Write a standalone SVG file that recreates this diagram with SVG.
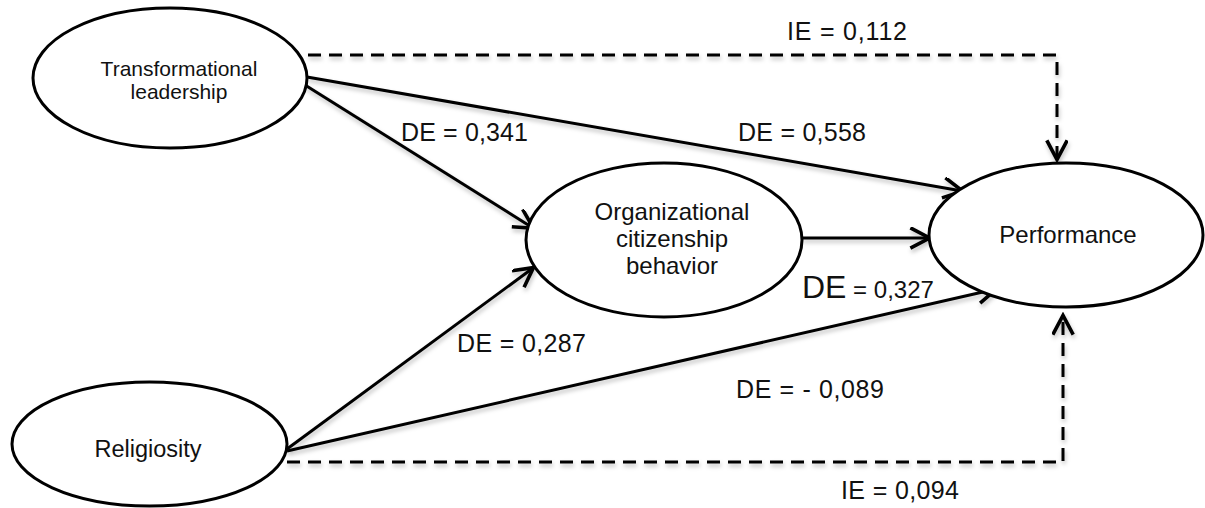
<svg xmlns="http://www.w3.org/2000/svg" width="1205" height="508" viewBox="0 0 1205 508">
  <style>
    .node { fill: #ffffff; stroke: #000000; stroke-width: 3; }
    .nlabel { font-family: "Liberation Sans", Arial, sans-serif; fill: #111111; text-anchor: middle; }
    .elabel { font-family: "Liberation Sans", Arial, sans-serif; fill: #111111; font-size: 25px; }
    .conn { fill: none; stroke: #000000; stroke-width: 3; marker-end: url(#arrow); }
    .dash { stroke-dasharray: 13 8; }
  </style>
  <defs>
    <marker id="arrow" markerUnits="userSpaceOnUse" markerWidth="24" markerHeight="24" viewBox="0 0 20 20" refX="16.5" refY="9" orient="auto">
      <path d="M1,0.5 L17,9 L1,17.5" fill="none" stroke="#000000" stroke-width="3" stroke-linejoin="miter"/>
    </marker>
    <filter id="shadow" x="-5%" y="-20%" width="110%" height="140%">
      <feDropShadow dx="1" dy="3" stdDeviation="2" flood-color="#000000" flood-opacity="0.25"/>
    </filter>
  </defs>
  <rect x="0" y="0" width="1205" height="508" fill="#ffffff"/>

  <g id="connectors" filter="url(#shadow)">
    <path class="conn dash" d="M308,55 L1057,55 L1057,159"/>
    <path class="conn dash" d="M287,462 L1063,462 L1063,316"/>
    <path class="conn" d="M307,77 L962,191"/>
    <path class="conn" d="M305,85 L533,228"/>
    <path class="conn" d="M802,238 L929,238"/>
    <path class="conn" d="M287,449 L533,268"/>
    <path class="conn" d="M287,451 L996,289"/>
  </g>

  <g id="node-transformational">
    <ellipse class="node" cx="170" cy="78" rx="137" ry="70"/>
    <text class="nlabel" font-size="21" x="179" y="76">Transformational</text>
    <text class="nlabel" font-size="21" x="179" y="99">leadership</text>
  </g>

  <g id="node-religiosity">
    <ellipse class="node" cx="149.5" cy="444" rx="137.5" ry="62"/>
    <text class="nlabel" font-size="23.5" x="148" y="457">Religiosity</text>
  </g>

  <g id="node-ocb">
    <ellipse class="node" cx="664" cy="240" rx="138" ry="77"/>
    <text class="nlabel" font-size="24" x="672" y="220">Organizational</text>
    <text class="nlabel" font-size="24" x="672" y="247">citizenship</text>
    <text class="nlabel" font-size="24" x="672" y="274">behavior</text>
  </g>

  <g id="node-performance">
    <ellipse class="node" cx="1066" cy="235" rx="137" ry="72"/>
    <text class="nlabel" font-size="24" x="1068" y="243">Performance</text>
  </g>

  <g id="labels">
    <text class="elabel" x="787" y="40" textLength="120" lengthAdjust="spacing">IE = 0,112</text>
    <text class="elabel" x="401" y="141" textLength="127" lengthAdjust="spacing">DE = 0,341</text>
    <text class="elabel" x="738" y="141" textLength="128" lengthAdjust="spacing">DE = 0,558</text>
    <text class="elabel" x="457" y="352" textLength="129" lengthAdjust="spacing">DE = 0,287</text>
    <text class="elabel" x="736" y="398" textLength="148" lengthAdjust="spacing">DE = - 0,089</text>
    <text class="elabel" x="802" y="298"><tspan font-size="32">DE</tspan><tspan font-size="24"> = 0,327</tspan></text>
    <text class="elabel" x="841" y="499" textLength="118" lengthAdjust="spacing">IE = 0,094</text>
  </g>
</svg>
